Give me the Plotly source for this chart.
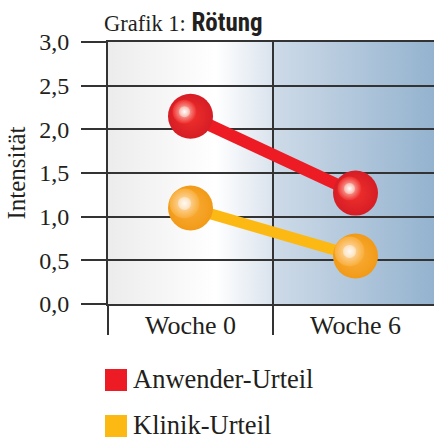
import base64
import plotly.graph_objects as go

# ---- data ----
categories = ["Woche 0", "Woche 6"]
anwender = [2.15, 1.27]
klinik = [1.10, 0.55]
series_names = ["Anwender-Urteil", "Klinik-Urteil"]
y_tickvals = [0.0, 0.5, 1.0, 1.5, 2.0, 2.5, 3.0]
y_ticktext = ["0,0", "0,5", "1,0", "1,5", "2,0", "2,5", "3,0"]
title_plain = "Grafik 1: "
title_bold = "Rötung"
y_title = "Intensität"

# ---- geometry / style ----
W, H = 434, 439
L, T, B = 108, 42, 135
PW, PH = W - L, H - T - B
CAT_PX = 165.0
XR = [-0.5, -0.5 + PW / CAT_PX]
YR = [0.0, 3.0]
UNIT_Y = PH / (YR[1] - YR[0])

SERIF = "Liberation Serif, Times New Roman, serif"
DARK = "#333333"
TXT = "#231f20"


def px_x(p):
    return (p - L) / PW


def px_y(p):
    return (T + PH - p) / PH


# background gradient (SVG data URI)
svg = f"""<svg xmlns='http://www.w3.org/2000/svg' width='{PW}' height='{PH}' viewBox='0 0 {PW} {PH}' preserveAspectRatio='none'>
<defs><linearGradient id='g' x1='0' y1='0' x2='1' y2='0'>
<stop offset='0' stop-color='#ececed'/>
<stop offset='0.33' stop-color='#ffffff'/>
<stop offset='0.505' stop-color='#dae3ed'/>
<stop offset='0.507' stop-color='#cedbe8'/>
<stop offset='1' stop-color='#94b3cf'/>
</linearGradient></defs>
<rect x='0' y='0' width='{PW}' height='{PH}' fill='url(#g)'/></svg>"""
bg_src = "data:image/svg+xml;base64," + base64.b64encode(svg.encode()).decode()

fig = go.Figure()

series = [
    dict(name=series_names[0], y=anwender, line="#ed1c24", lw=12,
         edge="#d61d25", center="#f0302c", hl_edge="#ef2d2b", hl_center="#fbd6cc", hl_size=24,
         core_edge="#f7b7aa", core_center="#ffffff", core_size=11),
    dict(name=series_names[1], y=klinik, line="#fdb913", lw=11,
         edge="#f29a17", center="#f9ae3a", hl_edge="#f9ad38", hl_center="#fde4c4", hl_size=30,
         core_edge="#fde0bb", core_center="#fffaf3", core_size=13),
]

for s in series:
    fig.add_trace(go.Scatter(
        x=categories, y=s["y"], mode="lines", name=s["name"],
        line=dict(color=s["line"], width=s["lw"]), showlegend=False, hoverinfo="skip"))
for s in series:
    fig.add_trace(go.Scatter(
        x=categories, y=s["y"], mode="markers", name=s["name"],
        marker=dict(size=45, color=s["edge"], line=dict(width=0),
                    gradient=dict(type="radial", color=s["center"])),
        showlegend=False))
# specular highlights on an overlaid, slightly shifted axis pair
dx = 6.0 / CAT_PX
dy = 4.5 / UNIT_Y
idx = list(range(len(categories)))
for s in series:
    fig.add_trace(go.Scatter(
        x=idx, y=s["y"], xaxis="x2", yaxis="y2", mode="markers",
        marker=dict(size=s["hl_size"], color=s["hl_edge"], line=dict(width=0),
                    gradient=dict(type="radial", color=s["hl_center"])),
        showlegend=False, hoverinfo="skip"))
    fig.add_trace(go.Scatter(
        x=idx, y=s["y"], xaxis="x2", yaxis="y2", mode="markers",
        marker=dict(size=s["core_size"], color=s["core_edge"], line=dict(width=0),
                    gradient=dict(type="radial", color=s["core_center"])),
        showlegend=False, hoverinfo="skip"))

fig.update_layout(
    width=W, height=H,
    margin=dict(l=L, r=0, t=T, b=B, pad=0),
    paper_bgcolor="white",
    plot_bgcolor="rgba(0,0,0,0)",
    font=dict(family=SERIF, color=TXT),
    xaxis=dict(
        type="category", range=XR, tickson="boundaries",
        ticks="outside", ticklen=29, tickwidth=2, tickcolor=DARK,
        showgrid=True, gridcolor=DARK, gridwidth=2,
        showline=True, mirror=True, linecolor=DARK, linewidth=2,
        zeroline=False, tickfont=dict(size=26, family=SERIF, color=TXT),
        ticklabelstandoff=-3, fixedrange=True),
    yaxis=dict(
        range=YR, tickmode="array", tickvals=y_tickvals, ticktext=y_ticktext,
        ticks="outside", ticklen=25, tickwidth=2, tickcolor=DARK,
        showgrid=True, gridcolor=DARK, gridwidth=2,
        showline=True, linecolor=DARK, linewidth=2, zeroline=False,
        tickfont=dict(size=24, family=SERIF, color=TXT), ticklabelstandoff=7,
        title=dict(text=y_title, font=dict(size=25, family=SERIF, color=TXT), standoff=6),
        fixedrange=True),
    xaxis2=dict(overlaying="x", range=[XR[0] + dx, XR[1] + dx], visible=False, fixedrange=True),
    yaxis2=dict(overlaying="y", range=[YR[0] - dy, YR[1] - dy], visible=False, fixedrange=True),
    images=[dict(source=bg_src, xref="paper", yref="paper", x=0, y=1, sizex=1, sizey=1,
                 xanchor="left", yanchor="top", sizing="stretch", layer="below")],
    showlegend=False,
)

# title
fig.add_annotation(
    xref="paper", yref="paper", x=px_x(102), y=px_y(39), xanchor="left", yanchor="bottom",
    showarrow=False,
    text=(f"<span style='font-family:Liberation Serif;font-size:22.5px'>{title_plain}</span>"
          f"<span style='font-family:Liberation Sans Narrow, Roboto Condensed, Arial Narrow, sans-serif;"
          f"font-size:25px;font-weight:bold'><b>{title_bold}</b></span>"),
    font=dict(color=TXT))

# manual legend
leg_colors = ["#ed1c24", "#fdb913"]
leg_centers = [380, 426]
for name, col, cy in zip(series_names, leg_colors, leg_centers):
    fig.add_shape(type="rect", xref="paper", yref="paper",
                  x0=px_x(105), x1=px_x(127), y0=px_y(cy - 11), y1=px_y(cy + 11),
                  fillcolor=col, line=dict(width=0))
    fig.add_annotation(xref="paper", yref="paper", x=px_x(132), y=px_y(cy - 1),
                       xanchor="left", yanchor="middle", showarrow=False, text=name,
                       font=dict(size=26.5, family=SERIF, color=TXT), borderpad=0)

fig.write_html("out.html", config={"displayModeBar": False},
               post_script="document.body.style.margin='0';")
